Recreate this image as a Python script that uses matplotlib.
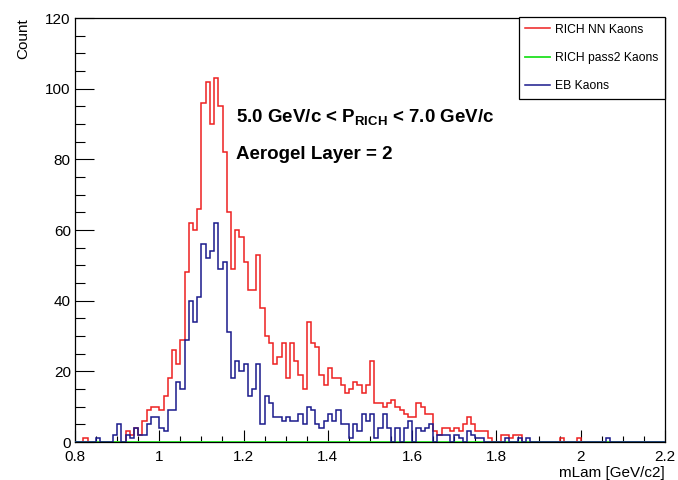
import numpy as np
import matplotlib
matplotlib.use('Agg')
import matplotlib.pyplot as plt
from matplotlib.ticker import MultipleLocator

plt.rcParams['font.family'] = ['Liberation Sans', 'DejaVu Sans']
plt.rcParams['mathtext.fontset'] = 'custom'
plt.rcParams['mathtext.rm'] = 'Liberation Sans'
plt.rcParams['mathtext.bf'] = 'Liberation Sans:bold'

# mLam histograms, 140 bins of 0.01 GeV/c2 from 0.8 to 2.2
xmin, xmax, nbins = 0.8, 2.2, 140

nnKaons = [0, 0, 1, 0, 0, 0, 0, 0, 0, 0,
           0, 0, 3, 2, 4, 2, 6, 9, 10, 10,
           9, 13, 18, 26, 22, 29, 48, 62, 60, 66,
           96, 102, 90, 103, 95, 82, 65, 49, 60, 58,
           51, 43, 43, 53, 38, 30, 28, 22, 24, 28,
           18, 28, 23, 19, 15, 34, 28, 27, 19, 16,
           21, 18, 18, 16, 14, 15, 17, 16, 14, 16,
           23, 11, 11, 10, 11, 12, 10, 9, 8, 7,
           7, 11, 10, 8, 8, 3, 2, 4, 4, 3,
           4, 3, 5, 7, 5, 3, 3, 3, 1, 0,
           0, 2, 2, 1, 2, 2, 0, 0, 0, 0,
           0, 0, 0, 0, 0, 1, 0, 0, 0, 1,
           0, 0, 0, 0, 0, 0, 0, 0, 0, 0,
           0, 0, 0, 0, 0, 0, 0, 0, 0, 0]

pass2Kaons = [0] * nbins

ebKaons = [0, 0, 0, 0, 0, 1, 0, 0, 0, 2,
           5, 0, 2, 1, 4, 2, 2, 5, 7, 7,
           4, 3, 9, 9, 17, 15, 29, 40, 34, 41,
           56, 52, 54, 62, 49, 51, 31, 18, 23, 20,
           22, 13, 15, 22, 5, 13, 11, 7, 7, 6,
           7, 6, 6, 8, 5, 10, 9, 5, 4, 6,
           8, 6, 9, 5, 5, 1, 5, 3, 8, 6,
           8, 1, 4, 8, 4, 0, 4, 0, 4, 6,
           0, 4, 3, 4, 5, 0, 2, 2, 2, 0,
           2, 1, 0, 3, 2, 1, 1, 0, 0, 0,
           0, 0, 1, 0, 0, 1, 0, 1, 0, 0,
           0, 0, 0, 0, 0, 0, 0, 0, 0, 0,
           0, 0, 0, 0, 0, 0, 1, 0, 0, 0,
           0, 0, 0, 0, 0, 0, 0, 0, 0, 0]

labels = ['RICH NN Kaons', 'RICH pass2 Kaons', 'EB Kaons']
colors = ['#ee2020', '#20e020', '#1a1a8c']

edges = np.linspace(xmin, xmax, nbins + 1)

fig = plt.figure(figsize=(6.78, 4.8), dpi=100)
ax = fig.add_axes([75 / 678, 38 / 480, 590 / 678, 424 / 480])

ax.stairs(nnKaons, edges, color=colors[0], lw=1.1, label=labels[0], zorder=2)
ax.stairs(pass2Kaons, edges, color=colors[1], lw=1.3, label=labels[1], zorder=3)
ax.stairs(ebKaons, edges, color=colors[2], lw=1.1, label=labels[2], zorder=4)

ax.set_xlim(xmin, xmax)
ax.set_ylim(0, 120)
ax.xaxis.set_major_locator(MultipleLocator(0.2))
ax.xaxis.set_minor_locator(MultipleLocator(0.05))
ax.yaxis.set_major_locator(MultipleLocator(20))
ax.yaxis.set_minor_locator(MultipleLocator(5))
ax.set_xticks(np.arange(0.8, 2.21, 0.2))
ax.set_xticklabels(['0.8', '1', '1.2', '1.4', '1.6', '1.8', '2', '2.2'])

ax.tick_params(axis='both', which='both', direction='in', labelsize=11, width=0.8)
ax.tick_params(axis='y', which='major', length=13.5, pad=3)
ax.tick_params(axis='y', which='minor', length=7)
ax.tick_params(axis='x', which='major', length=9, pad=6)
ax.tick_params(axis='x', which='minor', length=4.5)
for s in ax.spines.values():
    s.set_linewidth(0.9)

ax.set_ylabel('Count', loc='top', fontsize=11)
ax.yaxis.set_label_coords(-0.076, 1.0)
ax.set_xlabel('mLam [GeV/c2]', loc='right', fontsize=11)
ax.xaxis.set_label_coords(1.0, -0.057)

leg = ax.legend(loc='upper right', bbox_to_anchor=(665 / 678, 1 - 17 / 480),
                bbox_transform=fig.transFigure, fontsize=8.7, fancybox=False,
                edgecolor='black', framealpha=1, borderpad=0.55,
                labelspacing=1.35, handlelength=2.0, handletextpad=0.45,
                borderaxespad=0)
leg.get_frame().set_linewidth(0.9)

fig.text(236 / 678, 1 - 123 / 480, r'5.0 GeV/c < P$_{\mathbf{RICH}}$ < 7.0 GeV/c',
         fontsize=13.5, fontweight='bold', va='baseline', ha='left')
fig.text(236 / 678, 1 - 159 / 480, 'Aerogel Layer = 2',
         fontsize=13.5, fontweight='bold', va='baseline', ha='left')

fig.savefig('out.png', dpi=100)
